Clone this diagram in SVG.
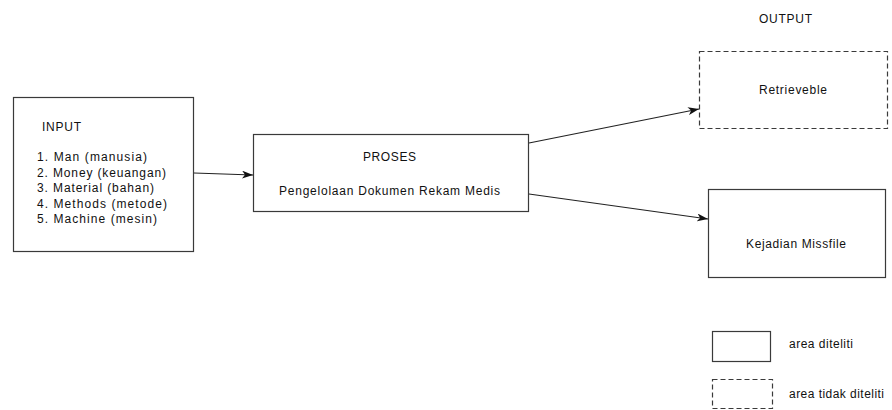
<svg xmlns="http://www.w3.org/2000/svg" width="892" height="410" viewBox="0 0 892 410">
<style>
.box{fill:#fff;stroke:#3a3a3a;stroke-width:1.2}
.dash{fill:#fff;stroke:#3a3a3a;stroke-width:1.2;stroke-dasharray:5 3}
.t{font-family:"Liberation Sans",Arial,sans-serif;font-size:12px;fill:#111}
.c{stroke:#222;stroke-width:1.2;fill:none;marker-end:url(#ah)}
</style>
<defs>
<marker id="ah" markerWidth="12" markerHeight="8" refX="11" refY="4" orient="auto" markerUnits="userSpaceOnUse">
<path d="M0,0 L11,4 L0,8 L3,4 Z" fill="#111"/>
</marker>
</defs>
<rect width="892" height="410" fill="#fff"/>
<g id="input">
<rect class="box" x="13.5" y="97.5" width="180" height="154"/>
<text class="t" x="42" y="131" textLength="39" lengthAdjust="spacing">INPUT</text>
<text class="t" x="37" y="161" textLength="110" lengthAdjust="spacing">1. Man (manusia)</text>
<text class="t" x="37" y="177" textLength="129" lengthAdjust="spacing">2. Money (keuangan)</text>
<text class="t" x="37" y="192" textLength="117" lengthAdjust="spacing">3. Material (bahan)</text>
<text class="t" x="37" y="208" textLength="130" lengthAdjust="spacing">4. Methods (metode)</text>
<text class="t" x="37" y="223" textLength="120" lengthAdjust="spacing">5. Machine (mesin)</text>
</g>
<g id="proses">
<rect class="box" x="253.5" y="134.5" width="275" height="77"/>
<text class="t" x="363" y="161" textLength="53" lengthAdjust="spacing">PROSES</text>
<text class="t" x="279" y="195" textLength="221" lengthAdjust="spacing">Pengelolaan Dokumen Rekam Medis</text>
</g>
<g id="output-label">
<text class="t" x="759" y="23" textLength="53" lengthAdjust="spacing">OUTPUT</text>
</g>
<g id="retrieveble">
<rect class="dash" x="699.5" y="51.5" width="188" height="77"/>
<text class="t" x="759" y="94" textLength="68" lengthAdjust="spacing">Retrieveble</text>
</g>
<g id="missfile">
<rect class="box" x="708.5" y="189.5" width="177" height="88"/>
<text class="t" x="746" y="248" textLength="100" lengthAdjust="spacing">Kejadian Missfile</text>
</g>
<g id="legend">
<rect class="box" x="712.5" y="331.5" width="58" height="30"/>
<text class="t" x="789" y="348" textLength="64" lengthAdjust="spacing">area diteliti</text>
<rect class="dash" x="712.5" y="379.5" width="60" height="29"/>
<text class="t" x="789" y="398" textLength="95" lengthAdjust="spacing">area tidak diteliti</text>
</g>
<g id="connectors">
<line class="c" x1="194" y1="173" x2="253" y2="175"/>
<line class="c" x1="529" y1="143" x2="699" y2="109"/>
<line class="c" x1="529" y1="194" x2="708" y2="219"/>
</g>
</svg>
